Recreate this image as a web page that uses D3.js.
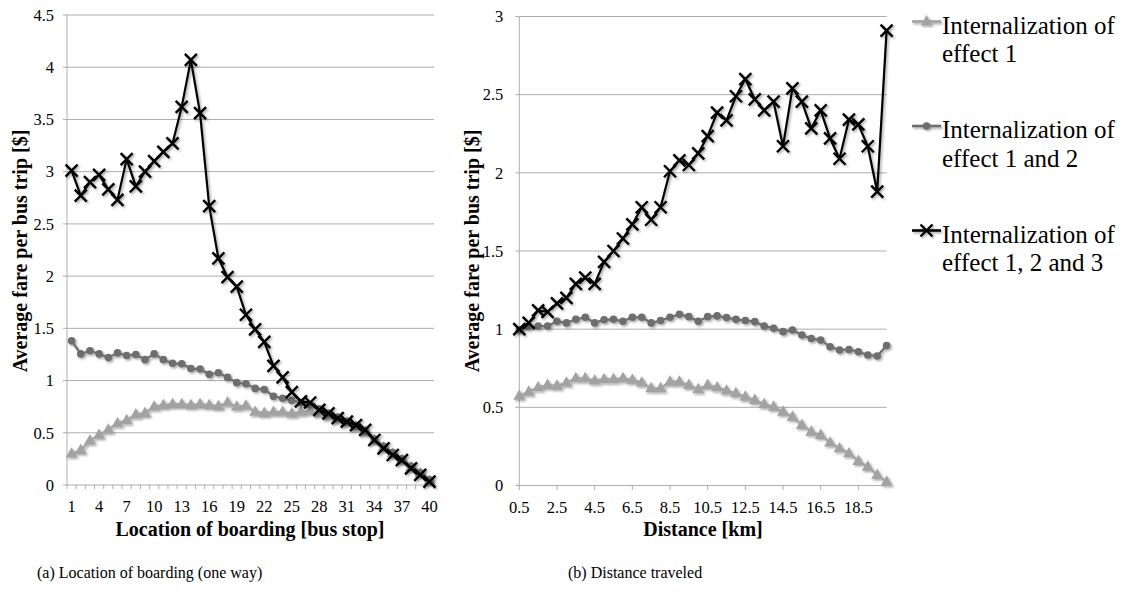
<!DOCTYPE html>
<html>
<head>
<meta charset="utf-8">
<script src="https://cdn.jsdelivr.net/npm/d3@7"></script>
<style>
  body { margin: 0; background: #fff; }
  svg text { font-family: "Liberation Serif", "Times New Roman", Tinos, serif; fill: #000; }
</style>
</head>
<body>
<svg id="chart" width="1126" height="596" font-family="Liberation Serif, Times New Roman, serif"></svg>
<script>
// ---- data ----
const stops = [1,2,3,4,5,6,7,8,9,10,11,12,13,14,15,16,17,18,19,20,
  21,22,23,24,25,26,27,28,29,30,31,32,33,34,35,36,37,38,39,40];
const stopLabels = [1,4,7,10,13,16,19,22,25,28,31,34,37,40];

const distances = [0.5,1,1.5,2,2.5,3,3.5,4,4.5,5,5.5,6,6.5,7,7.5,8,8.5,9,9.5,10,
  10.5,11,11.5,12,12.5,13,13.5,14,14.5,15,15.5,16,16.5,17,17.5,18,18.5,19,19.5,20];
const distLabels = [0.5,2.5,4.5,6.5,8.5,10.5,12.5,14.5,16.5,18.5];

const leftTicksY = [0,0.5,1,1.5,2,2.5,3,3.5,4,4.5];
const rightTicksY = [0,0.5,1,1.5,2,2.5,3];

// (a) location of boarding
const eff1Stop = [0.30,0.335,0.425,0.48,0.53,0.59,0.62,0.675,0.69,0.75,0.765,0.775,0.775,0.765,0.775,0.765,0.755,0.79,0.75,0.76,
  0.70,0.69,0.70,0.70,0.685,0.70,0.71,0.69,0.66,0.63,0.60,0.56,0.51,0.43,0.36,0.30,0.24,0.17,0.11,0.04];
const eff12Stop = [1.38,1.255,1.285,1.255,1.22,1.265,1.24,1.25,1.20,1.255,1.20,1.165,1.16,1.115,1.11,1.06,1.075,1.03,0.98,0.97,
  0.925,0.915,0.85,0.83,0.81,0.79,0.77,0.73,0.69,0.65,0.61,0.57,0.52,0.44,0.37,0.31,0.25,0.18,0.12,0.05];
const eff123Stop = [3.01,2.77,2.90,2.97,2.83,2.73,3.12,2.86,3.00,3.10,3.19,3.27,3.62,4.07,3.56,2.67,2.17,1.99,1.90,1.63,
  1.49,1.37,1.14,1.03,0.89,0.80,0.79,0.72,0.686,0.64,0.606,0.574,0.527,0.431,0.351,0.287,0.239,0.16,0.096,0.032];

// (b) distance traveled
const eff1Dist = [0.573,0.60,0.628,0.643,0.638,0.658,0.686,0.686,0.671,0.68,0.68,0.686,0.676,0.658,0.622,0.622,0.664,0.664,0.643,0.616,
  0.643,0.628,0.607,0.59,0.568,0.547,0.521,0.504,0.472,0.44,0.387,0.344,0.323,0.274,0.238,0.206,0.157,0.12,0.067,0.024];
const eff12Dist = [0.995,1.015,1.02,1.02,1.05,1.04,1.063,1.076,1.04,1.06,1.063,1.05,1.076,1.076,1.04,1.055,1.076,1.095,1.08,1.05,
  1.08,1.085,1.074,1.063,1.055,1.048,1.02,1.006,0.984,0.995,0.963,0.94,0.93,0.888,0.867,0.87,0.856,0.835,0.828,0.895];
const eff123Dist = [1.00,1.04,1.12,1.11,1.165,1.20,1.29,1.33,1.29,1.43,1.50,1.58,1.67,1.78,1.70,1.78,2.01,2.08,2.05,2.125,
  2.235,2.385,2.335,2.49,2.60,2.47,2.40,2.455,2.17,2.54,2.455,2.285,2.40,2.22,2.09,2.34,2.31,2.17,1.88,2.91];

const seriesNames = ["Internalization of|effect 1", "Internalization of|effect 1 and 2", "Internalization of|effect 1, 2 and 3"];

// ---- styles ----
const gridColor = "#adadad";
const c1 = "#a2a2a2", c2 = "#6e6e6e", c3 = "#000";

const svg = d3.select("#chart");

const defs = svg.append("defs");
defs.append("filter").attr("id", "shadow")
  .attr("x", "-20%").attr("y", "-20%").attr("width", "140%").attr("height", "140%")
  .append("feDropShadow")
  .attr("dx", 1.5).attr("dy", 1.5).attr("stdDeviation", 1)
  .attr("flood-color", "#000").attr("flood-opacity", 0.35);

function drawMarker(g, kind, x, y) {
  if (kind === "tri") {
    g.append("path").attr("d", d3.symbol(d3.symbolTriangle, 62)())
      .attr("transform", "translate(" + x + "," + (y + 0.5) + ")")
      .attr("fill", c1);
  } else if (kind === "dot") {
    g.append("circle").attr("cx", x).attr("cy", y).attr("r", 3.8).attr("fill", c2);
  } else {
    const s = 6;
    g.append("path")
      .attr("d", "M" + (x - s) + "," + (y - s) + "L" + (x + s) + "," + (y + s) +
                 "M" + (x - s) + "," + (y + s) + "L" + (x + s) + "," + (y - s))
      .attr("stroke", c3).attr("stroke-width", 2.4).attr("fill", "none");
  }
}

function drawSeries(g, xs, vals, x, y, color, width, kind) {
  const data = xs.map((d, i) => [x(d), y(vals[i])]);
  const sg = g.append("g").attr("filter", "url(#shadow)");
  sg.append("path").datum(data)
    .attr("d", d3.line())
    .attr("fill", "none").attr("stroke", color).attr("stroke-width", width)
    .attr("stroke-linejoin", "round");
  data.forEach(p => drawMarker(sg, kind, p[0], p[1]));
}

function drawFrame(g, x0, x1, y, ticks, labelGap) {
  // gridlines + y ticks
  g.selectAll(".grid").data(ticks.filter(t => t > 0)).enter().append("line")
    .attr("x1", x0).attr("x2", x1)
    .attr("y1", d => y(d)).attr("y2", d => y(d))
    .attr("stroke", gridColor).attr("stroke-width", 1);
  g.selectAll(".ytick").data(ticks).enter().append("line")
    .attr("x1", x0 - 4).attr("x2", x0)
    .attr("y1", d => y(d)).attr("y2", d => y(d))
    .attr("stroke", gridColor);
  g.selectAll(".ylab").data(ticks).enter().append("text")
    .attr("x", x0 - labelGap).attr("y", d => y(d)).attr("dy", "0.35em")
    .attr("text-anchor", "end").style("font-size", "16.5px")
    .text(d => d);
  // axis lines
  g.append("line").attr("x1", x0).attr("x2", x0)
    .attr("y1", y.range()[1]).attr("y2", y.range()[0]).attr("stroke", gridColor);
  g.append("line").attr("x1", x0).attr("x2", x1)
    .attr("y1", y.range()[0]).attr("y2", y.range()[0]).attr("stroke", gridColor);
}

// ---- chart (a) ----
const ga = svg.append("g");
const xa = d3.scaleBand().domain(stops).range([67, 434]).padding(0);
const xaC = d => xa(d) + xa.bandwidth() / 2;
const ya = d3.scaleLinear().domain([0, 4.5]).range([485, 15]);

drawFrame(ga, 67, 434, ya, leftTicksY, 13);
// tick marks at category boundaries
ga.selectAll(".xtick").data(stops.map(d => xa(d)).concat([434])).enter().append("line")
  .attr("x1", d => d).attr("x2", d => d).attr("y1", 485).attr("y2", 489)
  .attr("stroke", gridColor);
ga.selectAll(".xlab").data(stopLabels).enter().append("text")
  .attr("x", xaC).attr("y", 512).attr("text-anchor", "middle")
  .style("font-size", "16.5px").text(d => d);

drawSeries(ga, stops, eff1Stop, xaC, ya, c1, 2.2, "tri");
drawSeries(ga, stops, eff12Stop, xaC, ya, c2, 2.2, "dot");
drawSeries(ga, stops, eff123Stop, xaC, ya, c3, 2.2, "x");

ga.append("text").attr("transform", "translate(20,251) rotate(-90)")
  .attr("text-anchor", "middle").attr("dy", "0.35em")
  .style("font-size", "20px").style("font-weight", "bold")
  .text("Average fare per bus trip [$]");
ga.append("text").attr("x", 250).attr("y", 536).attr("text-anchor", "middle")
  .style("font-size", "20px").style("font-weight", "bold")
  .text("Location of boarding [bus stop]");
ga.append("text").attr("x", 37).attr("y", 578)
  .style("font-size", "16px").text("(a) Location of boarding (one way)");

// ---- chart (b) ----
const gb = svg.append("g");
const xb = d3.scalePoint().domain(distances).range([519.3, 886.6]).padding(0);
const yb = d3.scaleLinear().domain([0, 3]).range([485.5, 16.5]);

drawFrame(gb, 519.3, 886.6, yb, rightTicksY, 16);
gb.selectAll(".xtick").data(distLabels).enter().append("line")
  .attr("x1", d => xb(d)).attr("x2", d => xb(d)).attr("y1", 485.5).attr("y2", 490)
  .attr("stroke", gridColor);
gb.selectAll(".xlab").data(distLabels).enter().append("text")
  .attr("x", d => xb(d)).attr("y", 513).attr("text-anchor", "middle")
  .style("font-size", "16.5px").text(d => d);

drawSeries(gb, distances, eff1Dist, xb, yb, c1, 2.2, "tri");
drawSeries(gb, distances, eff12Dist, xb, yb, c2, 2.2, "dot");
drawSeries(gb, distances, eff123Dist, xb, yb, c3, 2.2, "x");

gb.append("text").attr("transform", "translate(472,251) rotate(-90)")
  .attr("text-anchor", "middle").attr("dy", "0.35em")
  .style("font-size", "20px").style("font-weight", "bold")
  .text("Average fare per bus trip [$]");
gb.append("text").attr("x", 703).attr("y", 536).attr("text-anchor", "middle")
  .style("font-size", "20px").style("font-weight", "bold")
  .text("Distance [km]");
gb.append("text").attr("x", 568).attr("y", 578)
  .style("font-size", "16px").text("(b) Distance traveled");

// ---- legend ----
const lg = svg.append("g");
const kinds = ["tri", "dot", "x"];
const colors = [c1, c2, c3];
seriesNames.forEach((name, i) => {
  const base = 33.5 + i * 104.5;
  const my = base - 12;
  const item = lg.append("g").attr("filter", "url(#shadow)");
  item.append("line").attr("x1", 912).attr("x2", 941).attr("y1", my).attr("y2", my)
    .attr("stroke", colors[i]).attr("stroke-width", 2.6);
  drawMarker(item, kinds[i], 926.5, my);
  name.split("|").forEach((t, j) => {
    lg.append("text").attr("x", 942).attr("y", base + j * 28.5)
      .style("font-size", "25px").text(t);
  });
});
</script>
</body>
</html>
